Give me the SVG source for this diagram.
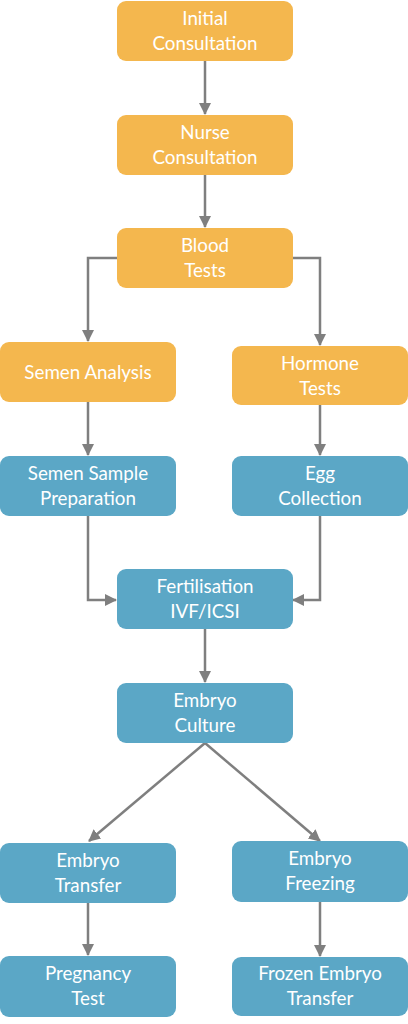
<svg xmlns="http://www.w3.org/2000/svg" width="408" height="1024" viewBox="0 0 408 1024">
<style>
.o{fill:#F4B74E}
.b{fill:#5BA7C6}
.t{font-family:Lato,"Open Sans","Liberation Sans",sans-serif;font-size:18.8px;fill:#FFFFFF;text-anchor:middle}
.c{fill:none;stroke:#7F7F7F;stroke-width:2.5}
</style>
<defs>
<marker id="ah" markerUnits="userSpaceOnUse" markerWidth="12" markerHeight="12" viewBox="0 0 12 12" refX="11" refY="6" orient="auto">
<path d="M0,0 L12,6 L0,12 Z" fill="#7F7F7F"/>
</marker>
</defs>
<rect width="408" height="1024" fill="#FFFFFF"/>
<g id="connectors">
<path class="c" d="M205,61 V114" marker-end="url(#ah)"/>
<path class="c" d="M205,175 V227" marker-end="url(#ah)"/>
<path class="c" d="M117,258 H88 V341" marker-end="url(#ah)"/>
<path class="c" d="M292,258 H320 V345" marker-end="url(#ah)"/>
<path class="c" d="M88,402 V455" marker-end="url(#ah)"/>
<path class="c" d="M320,405 V455" marker-end="url(#ah)"/>
<path class="c" d="M88,516 V600 H116" marker-end="url(#ah)"/>
<path class="c" d="M320,516 V600 H293" marker-end="url(#ah)"/>
<path class="c" d="M205,629 V682" marker-end="url(#ah)"/>
<path class="c" d="M205,743 L89,841" marker-end="url(#ah)"/>
<path class="c" d="M205,743 L320,841" marker-end="url(#ah)"/>
<path class="c" d="M88,903 V955" marker-end="url(#ah)"/>
<path class="c" d="M320,902 V956" marker-end="url(#ah)"/>
</g>
<g id="initial-consultation"><rect class="o" x="117" y="1" width="176" height="60" rx="9"/><text class="t" x="205" y="25">Initial</text><text class="t" x="205" y="50">Consultation</text></g>
<g id="nurse-consultation"><rect class="o" x="117" y="115" width="176" height="60" rx="9"/><text class="t" x="205" y="139">Nurse</text><text class="t" x="205" y="164">Consultation</text></g>
<g id="blood-tests"><rect class="o" x="117" y="228" width="176" height="60" rx="9"/><text class="t" x="205" y="252">Blood</text><text class="t" x="205" y="277">Tests</text></g>
<g id="semen-analysis"><rect class="o" x="0" y="342" width="176" height="60" rx="9"/><text class="t" x="88" y="379">Semen Analysis</text></g>
<g id="hormone-tests"><rect class="o" x="232" y="346" width="176" height="59" rx="9"/><text class="t" x="320" y="370">Hormone</text><text class="t" x="320" y="395">Tests</text></g>
<g id="semen-sample-preparation"><rect class="b" x="0" y="456" width="176" height="60" rx="9"/><text class="t" x="88" y="480">Semen Sample</text><text class="t" x="88" y="505">Preparation</text></g>
<g id="egg-collection"><rect class="b" x="232" y="456" width="176" height="60" rx="9"/><text class="t" x="320" y="480">Egg</text><text class="t" x="320" y="505">Collection</text></g>
<g id="fertilisation"><rect class="b" x="117" y="569" width="176" height="60" rx="9"/><text class="t" x="205" y="593">Fertilisation</text><text class="t" x="205" y="618">IVF/ICSI</text></g>
<g id="embryo-culture"><rect class="b" x="117" y="683" width="176" height="60" rx="9"/><text class="t" x="205" y="707">Embryo</text><text class="t" x="205" y="732">Culture</text></g>
<g id="embryo-transfer"><rect class="b" x="0" y="843" width="176" height="60" rx="9"/><text class="t" x="88" y="867">Embryo</text><text class="t" x="88" y="892">Transfer</text></g>
<g id="embryo-freezing"><rect class="b" x="232" y="841" width="176" height="61" rx="9"/><text class="t" x="320" y="865">Embryo</text><text class="t" x="320" y="890">Freezing</text></g>
<g id="pregnancy-test"><rect class="b" x="0" y="956" width="176" height="61" rx="9"/><text class="t" x="88" y="980">Pregnancy</text><text class="t" x="88" y="1005">Test</text></g>
<g id="frozen-embryo-transfer"><rect class="b" x="232" y="957" width="176" height="59" rx="9"/><text class="t" x="320" y="980">Frozen Embryo</text><text class="t" x="320" y="1005">Transfer</text></g>
</svg>
